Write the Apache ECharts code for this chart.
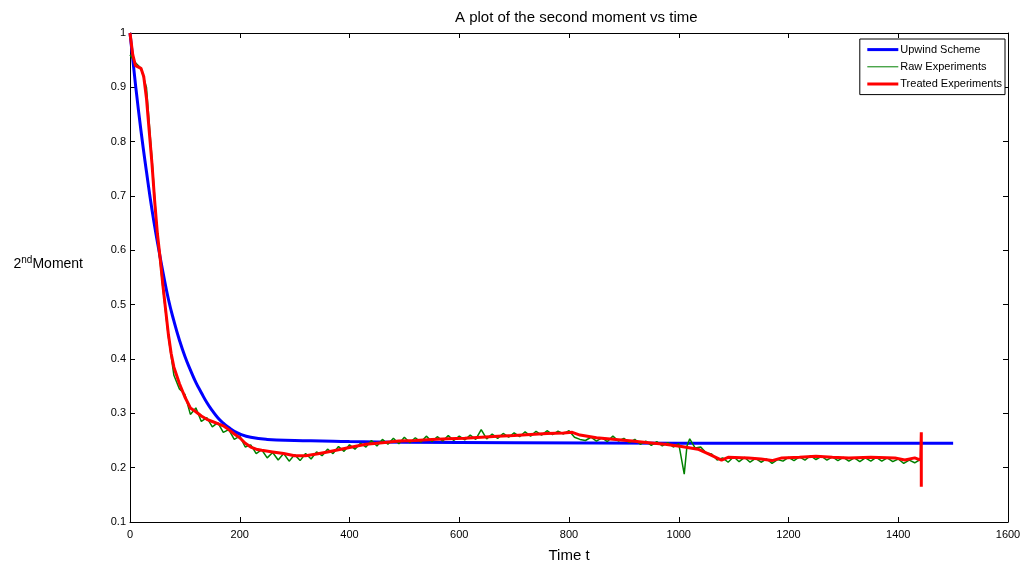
<!DOCTYPE html>
<html>
<head>
<meta charset="utf-8">
<script src="https://cdn.jsdelivr.net/npm/echarts@6/dist/echarts.min.js"></script>
<style>html,body{margin:0;padding:0;background:#fff}#c{width:1024px;height:568px}</style>
</head>
<body>
<div id="c"></div>
<script>
// Upwind scheme
const upT = [0,10,20,30,40,50,60,70,80,90,100,110,120,130,140,150,160,170,180,190,200,220,250,300,350,400,500,700,1000,1500];
const upM = [1.0,0.905,0.82,0.745,0.675,0.615,0.56,0.51,0.47,0.435,0.405,0.38,0.357,0.338,0.32,0.305,0.292,0.282,0.274,0.267,0.262,0.256,0.252,0.25,0.249,0.248,0.247,0.246,0.245,0.245];

// Raw experiments
const rawT = [0,10,20,30,40,50,60,70,80,90,100,110,120,130,140,150,160,170,180,190,200,210,220,230,240,250,260,270,280,290,300,310,320,330,340,350,360,370,380,390,400,410,420,430,440,450,460,470,480,490,500,510,520,530,540,550,560,570,580,590,600,610,620,630,640,650,660,670,680,690,700,710,720,730,740,750,760,770,780,790,800,810,820,830,840,850,860,870,880,890,900,910,920,930,940,950,960,970,980,990,1000,1010,1015,1020,1030,1040,1050,1060,1070,1080,1090,1100,1110,1120,1130,1140,1150,1160,1170,1180,1190,1200,1210,1220,1230,1240,1250,1260,1270,1280,1290,1300,1310,1320,1330,1340,1350,1360,1370,1380,1390,1400,1410,1420,1430,1440];
const rawM = [0.96,0.945,0.935,0.90,0.77,0.625,0.53,0.44,0.37,0.345,0.335,0.298,0.31,0.285,0.292,0.275,0.283,0.265,0.27,0.252,0.258,0.238,0.242,0.226,0.233,0.218,0.228,0.214,0.226,0.212,0.224,0.213,0.226,0.216,0.229,0.222,0.234,0.226,0.239,0.23,0.242,0.234,0.245,0.238,0.25,0.24,0.252,0.243,0.254,0.244,0.256,0.246,0.255,0.247,0.258,0.248,0.257,0.249,0.259,0.25,0.258,0.251,0.26,0.252,0.27,0.253,0.262,0.254,0.263,0.256,0.264,0.257,0.266,0.258,0.267,0.26,0.268,0.261,0.267,0.262,0.268,0.256,0.252,0.25,0.256,0.249,0.255,0.248,0.258,0.249,0.254,0.246,0.252,0.243,0.249,0.241,0.248,0.24,0.246,0.238,0.244,0.188,0.24,0.253,0.236,0.238,0.227,0.225,0.214,0.218,0.21,0.22,0.211,0.219,0.21,0.217,0.21,0.216,0.208,0.215,0.212,0.219,0.213,0.22,0.214,0.222,0.215,0.221,0.214,0.22,0.213,0.219,0.212,0.218,0.211,0.218,0.212,0.219,0.212,0.218,0.211,0.216,0.208,0.214,0.209,0.215];

// Treated experiments
const trT = [0,5,10,20,25,30,35,40,45,50,55,60,65,70,75,80,90,100,110,120,130,140,150,160,170,180,190,200,210,220,230,240,260,280,300,320,340,360,380,400,430,460,490,520,550,580,610,640,670,700,730,760,790,806,820,850,885,915,945,975,1005,1035,1055,1078,1090,1127,1150,1170,1188,1220,1250,1280,1310,1350,1394,1412,1430,1441,1442,1442];
const trM = [1.0,0.96,0.94,0.935,0.92,0.88,0.82,0.76,0.69,0.63,0.585,0.535,0.49,0.445,0.41,0.385,0.355,0.33,0.31,0.303,0.295,0.289,0.285,0.281,0.277,0.27,0.262,0.255,0.245,0.238,0.234,0.232,0.229,0.226,0.222,0.222,0.225,0.229,0.233,0.237,0.243,0.246,0.249,0.25,0.252,0.253,0.254,0.256,0.258,0.259,0.261,0.263,0.264,0.265,0.26,0.255,0.252,0.249,0.246,0.243,0.239,0.234,0.225,0.214,0.219,0.218,0.216,0.213,0.218,0.219,0.221,0.219,0.218,0.219,0.218,0.214,0.218,0.214,0.265,0.165];

const xTicks = {min:0, max:1600, interval:200};
const yTicks = {min:0.1, max:1, interval:0.1};

const zip = (a,b) => a.map((v,i)=>[v,b[i]]);
const FONT = 'Liberation Sans, Arial, sans-serif';
const axisCommon = {
  axisLine:{show:true, onZero:false, lineStyle:{color:'#000', width:1}},
  axisTick:{show:true, inside:true, length:5, lineStyle:{color:'#000'}},
  splitLine:{show:false}
};

const chart = echarts.init(document.getElementById('c'), null, {renderer:'canvas'});
chart.setOption({
  animation:false,
  backgroundColor:'#fff',
  textStyle:{fontFamily:FONT},
  title:{text:'A plot of the second moment vs time', left:450, top:5,
    textStyle:{fontSize:15, fontWeight:'normal', color:'#000', fontFamily:FONT}},
  grid:{left:130, right:16, top:33, bottom:43},
  legend:{
    orient:'vertical', right:19, top:39,
    backgroundColor:'#fff', borderColor:'#000', borderWidth:1, borderRadius:0,
    padding:[5,3,5,6], itemGap:6, itemWidth:31, itemHeight:14,
    itemStyle:{opacity:0},
    textStyle:{fontSize:11, color:'#000', fontFamily:FONT, padding:[0,0,0,-3]},
    data:[
      {name:'Upwind Scheme', lineStyle:{width:3}},
      {name:'Raw Experiments', lineStyle:{width:1}},
      {name:'Treated Experiments', lineStyle:{width:3}}
    ]
  },
  xAxis:[
    Object.assign({type:'value', position:'bottom', min:xTicks.min, max:xTicks.max, interval:xTicks.interval,
      name:'Time t', nameLocation:'middle', nameGap:26,
      nameTextStyle:{fontSize:15, color:'#000', fontFamily:FONT},
      axisLabel:{color:'#000', fontSize:11, margin:7, fontFamily:FONT, formatter:v=>String(v)}}, axisCommon),
    Object.assign({type:'value', position:'top', min:xTicks.min, max:xTicks.max, interval:xTicks.interval,
      axisLabel:{show:false}}, axisCommon)
  ],
  yAxis:[
    Object.assign({type:'value', position:'left', min:yTicks.min, max:yTicks.max, interval:yTicks.interval,
      name:'{a|2}{b|nd}{a|Moment}', nameLocation:'middle', nameRotate:0, nameGap:47,
      nameTextStyle:{align:'right', padding:[0,0,26,0], rich:{a:{fontSize:14, color:'#000', fontFamily:FONT},
        b:{fontSize:10, color:'#000', fontFamily:FONT, verticalAlign:'top', padding:[0,0,8,0]}}},
      axisLabel:{color:'#000', fontSize:11, margin:4, fontFamily:FONT,
        formatter:v=>String(Math.round(v*10)/10)}}, axisCommon),
    Object.assign({type:'value', position:'right', min:yTicks.min, max:yTicks.max, interval:yTicks.interval,
      axisLabel:{show:false}}, axisCommon)
  ],
  series:[
    {name:'Upwind Scheme', type:'line', data:zip(upT,upM), showSymbol:false, symbol:'none', smooth:true,
      lineStyle:{color:'#0000ff', width:3}, itemStyle:{color:'#0000ff'}, z:2},
    {name:'Raw Experiments', type:'line', data:zip(rawT,rawM), showSymbol:false, symbol:'none',
      lineStyle:{color:'#008000', width:1.5}, itemStyle:{color:'#008000'}, z:3},
    {name:'Treated Experiments', type:'line', data:zip(trT,trM), showSymbol:false, symbol:'none',
      lineStyle:{color:'#ff0000', width:3}, itemStyle:{color:'#ff0000'}, z:4}
  ]
});
</script>
</body>
</html>
